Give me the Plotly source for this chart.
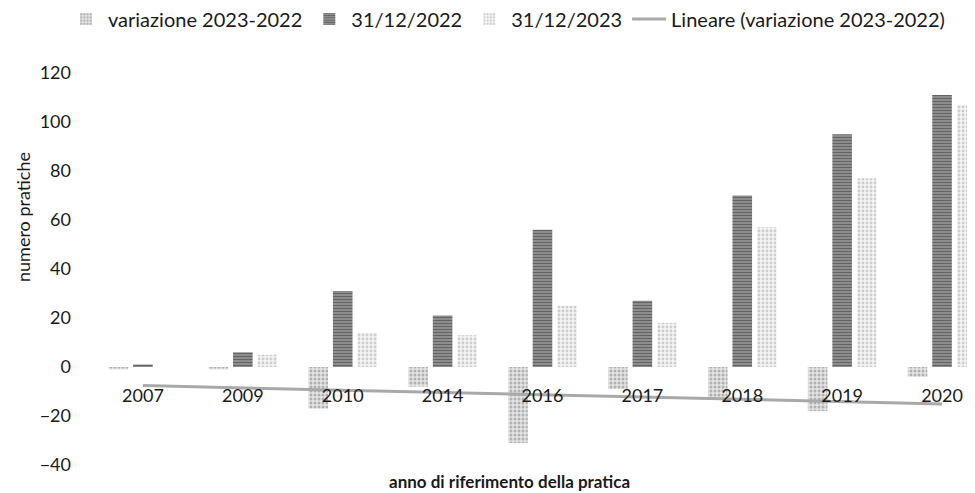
import numpy as np
import plotly.graph_objects as go

categories = ["2007", "2009", "2010", "2014", "2016", "2017", "2018", "2019", "2020"]
val_2022 = [1, 6, 31, 21, 56, 27, 70, 95, 111]
val_2023 = [0, 5, 14, 13, 25, 18, 57, 77, 107]
variazione = [-1, -1, -17, -8, -31, -9, -13, -18, -4]
y_ticks = [-40, -20, 0, 20, 40, 60, 80, 100, 120]

# linear trendline of the variation series (Excel "Lineare")
xi = np.arange(len(categories))
slope, intercept = np.polyfit(xi, variazione, 1)
trend = slope * xi + intercept

FONT = "Lato"
TXT = "#1a1a1a"

# the page body has an 8px margin: the figure is sized so it ends at the window edge
W, H = 967, 485
L, T, B = 85, 65, 28
PH = H - T - B   # plot height
PW = W - L       # plot width


def px_x(x):  # figure pixel -> paper x
    return (x - L) / PW


def px_y(y):  # figure pixel -> paper y
    return (H - B - y) / PH


fig = go.Figure()
fig.add_trace(go.Bar(
    x=categories, y=variazione, name="variazione 2023-2022",
    marker=dict(color="#e4e4e4", line=dict(width=0),
                pattern=dict(shape=".", fgcolor="#7d7d7d", bgcolor="#e4e4e4", size=4, solidity=0.45)),
))
fig.add_trace(go.Bar(
    x=categories, y=val_2022, name="31/12/2022",
    marker=dict(color="#8a8a8a", line=dict(width=0),
                pattern=dict(shape="-", fgcolor="#2e2e2e", bgcolor="#9a9a9a", size=3, solidity=0.5)),
))
fig.add_trace(go.Bar(
    x=categories, y=val_2023, name="31/12/2023",
    marker=dict(color="#f2f2f2", line=dict(width=0),
                pattern=dict(shape=".", fgcolor="#a8a8a8", bgcolor="#f4f4f4", size=4, solidity=0.4)),
))
fig.add_trace(go.Scatter(
    x=categories, y=trend, mode="lines", name="Lineare (variazione 2023-2022)",
    line=dict(color="#a9a9a9", width=3),
))

fig.update_layout(
    width=W, height=H,
    margin=dict(l=L, r=0, t=T, b=B, autoexpand=False),
    paper_bgcolor="white", plot_bgcolor="white",
    barmode="group", bargap=0.264, bargroupgap=0.2,
    font=dict(family=FONT, size=18, color=TXT),
    showlegend=True,
    legend=dict(orientation="h", xref="paper", yref="paper",
                x=px_x(56), y=px_y(11), xanchor="left", yanchor="middle",
                font=dict(family=FONT, size=20, color=TXT),
                traceorder="normal", itemwidth=34, bgcolor="rgba(0,0,0,0)"),
    xaxis=dict(type="category", range=[-0.5, 8.33], anchor="free", position=0.25,
               showline=False, showgrid=False, zeroline=False, ticks="",
               tickfont=dict(family=FONT, size=18, color=TXT), ticklabelstandoff=16),
    yaxis=dict(range=[-40, 120], tickvals=y_ticks, showline=False, showgrid=False,
               zeroline=False, ticks="", ticklabelstandoff=21,
               tickfont=dict(family=FONT, size=18, color=TXT)),
)
fig.add_annotation(text="numero pratiche", xref="paper", yref="paper",
                   x=px_x(15), y=px_y(209), xanchor="center", yanchor="middle",
                   textangle=-90, showarrow=False,
                   font=dict(family=FONT, size=18, color=TXT))
fig.add_annotation(text="<b>anno di riferimento della pratica</b>", xref="paper", yref="paper",
                   x=px_x(501), y=px_y(473), xanchor="center", yanchor="middle",
                   showarrow=False, font=dict(family=FONT, size=17, color=TXT))

fig.write_html("out.html")
